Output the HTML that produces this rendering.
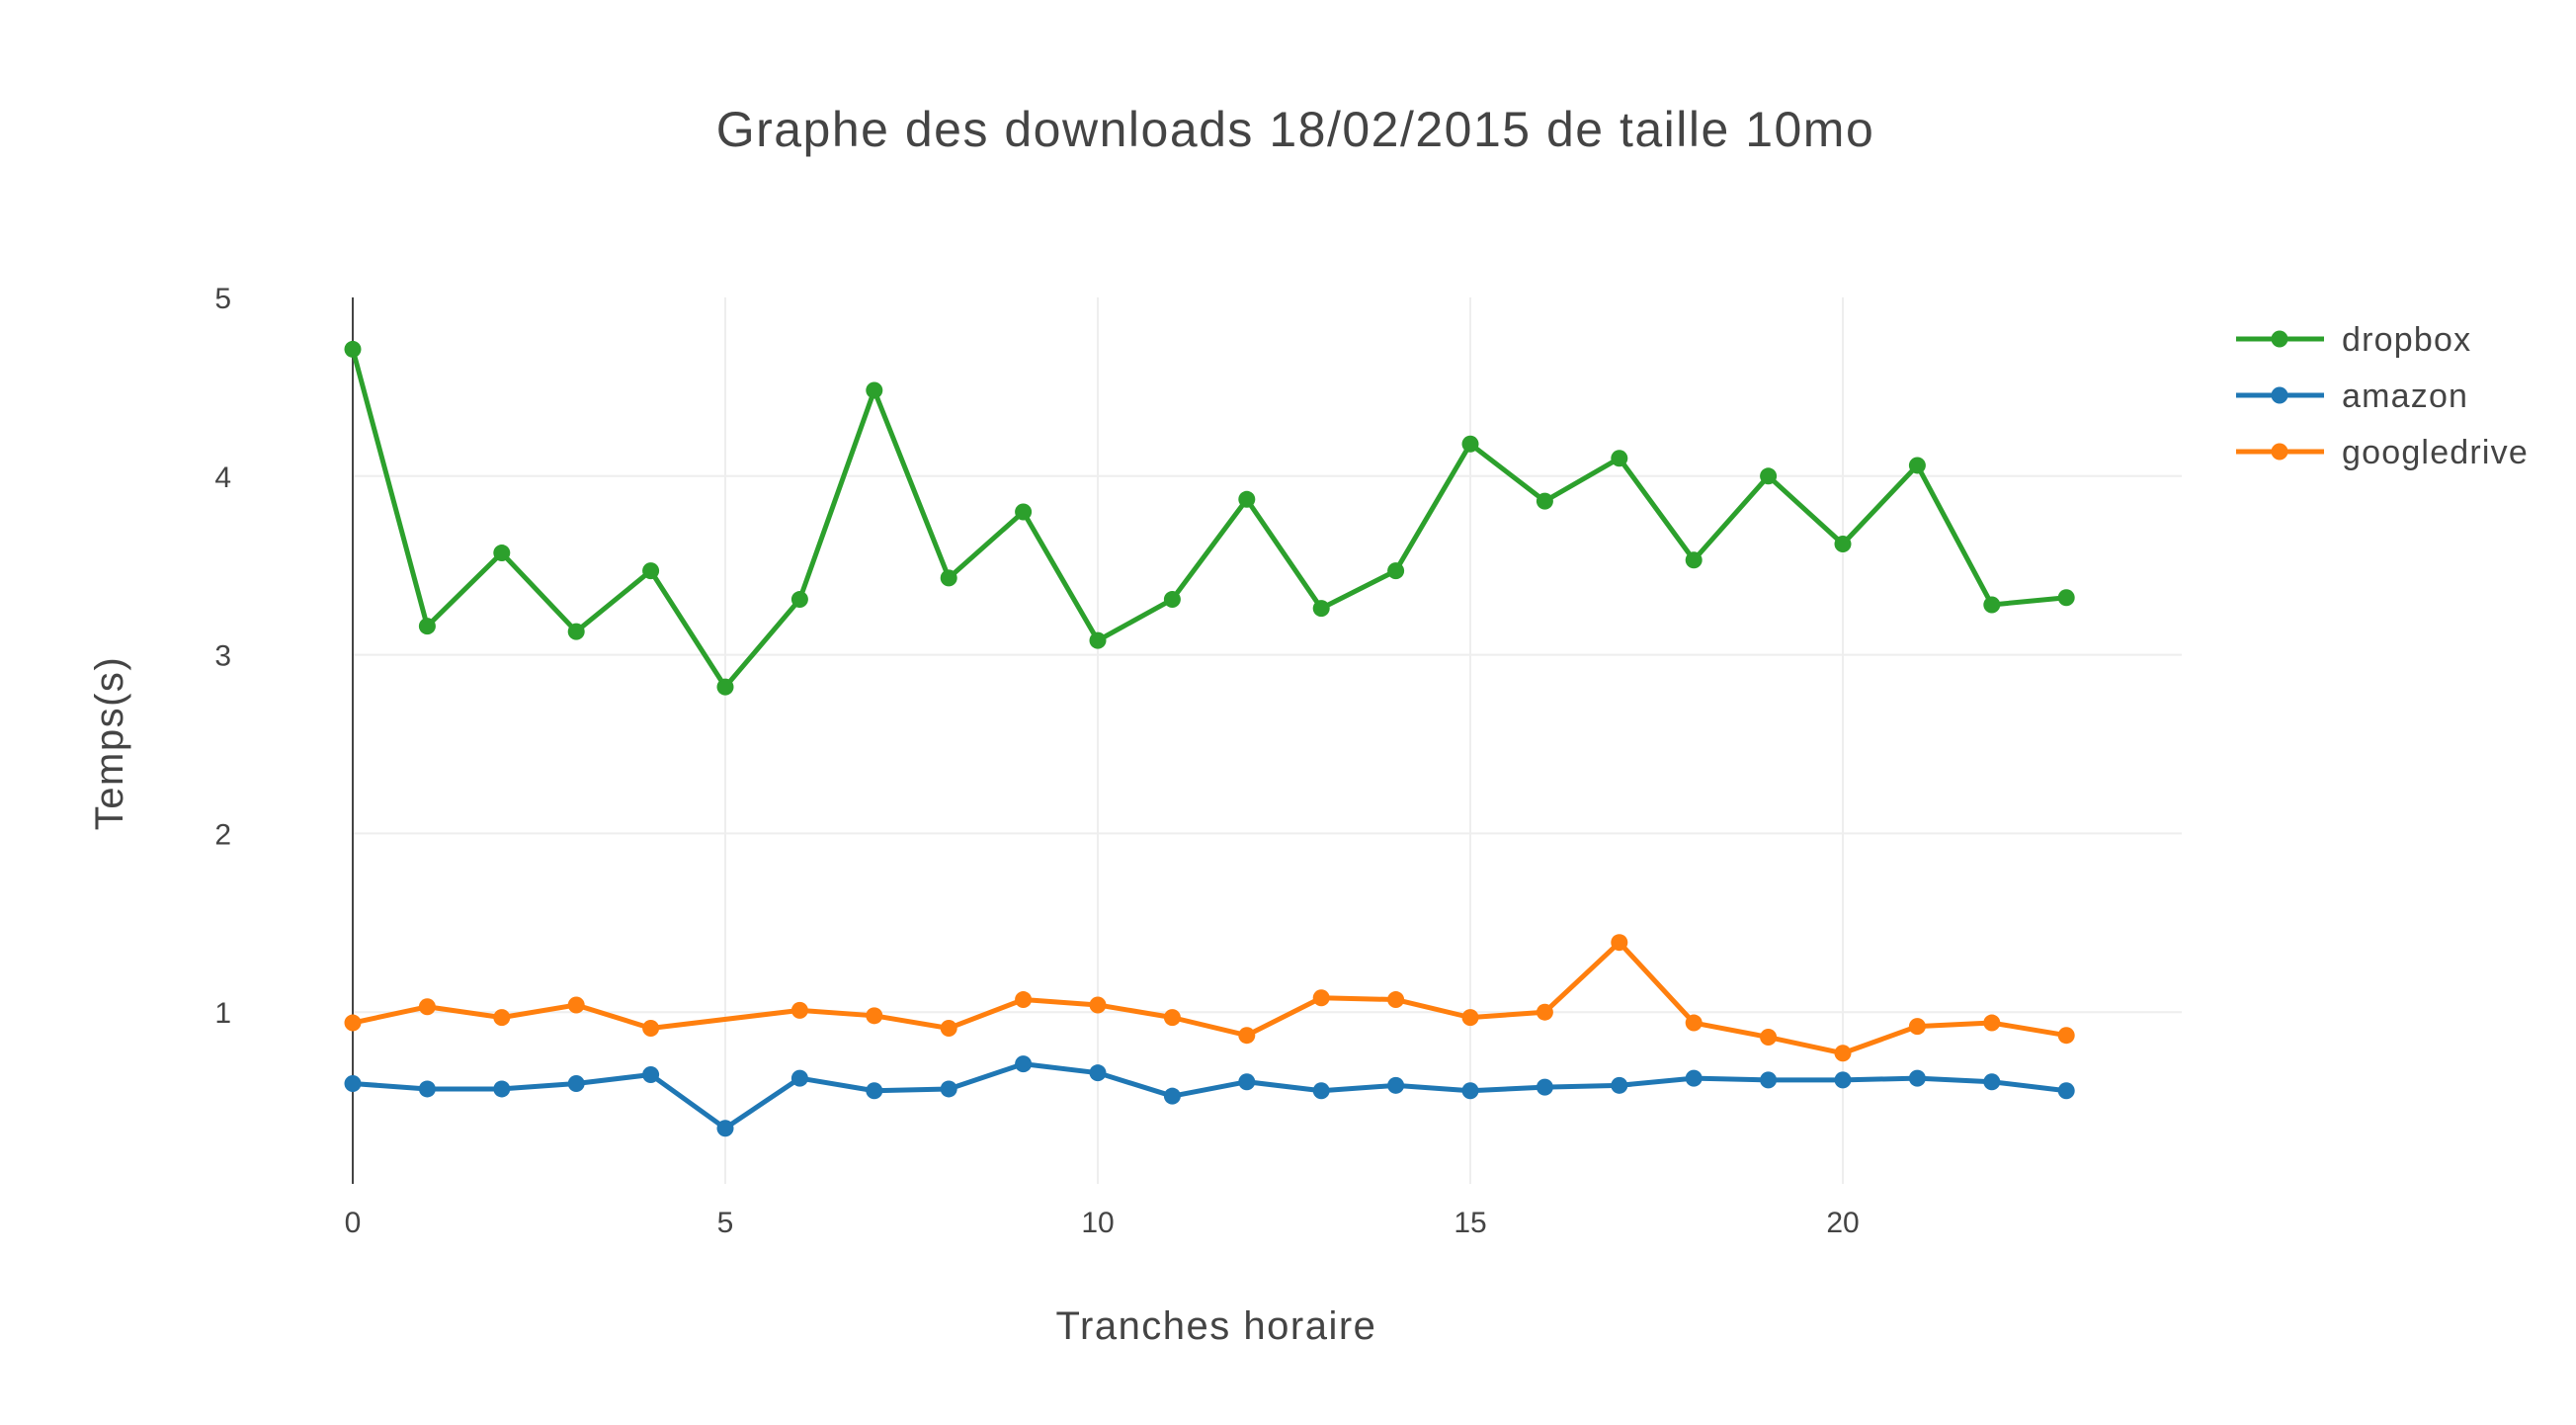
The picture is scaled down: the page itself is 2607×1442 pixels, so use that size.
<!DOCTYPE html>
<html><head><meta charset="utf-8"><style>
body{margin:0;background:#fff;}
svg text{font-family:"Liberation Sans","DejaVu Sans",sans-serif;fill:#444;}
</style></head><body>
<svg id="chart" width="2607" height="1437" xmlns="http://www.w3.org/2000/svg">
<text x="1311" y="148" font-size="50" letter-spacing="1.5" text-anchor="middle">Graphe des downloads 18/02/2015 de taille 10mo</text>
<text x="1231" y="1355" font-size="40" letter-spacing="1.5" text-anchor="middle">Tranches horaire</text>
<text x="124" y="752" font-size="40" letter-spacing="1.5" text-anchor="middle" transform="rotate(-90 124 752)">Temps(s)</text>
<g id="grid"></g><g id="series"></g><g id="legend"></g>
</svg>
<script>
const hours=[0,1,2,3,4,5,6,7,8,9,10,11,12,13,14,15,16,17,18,19,20,21,22,23];
const dropbox=[4.71,3.16,3.57,3.13,3.47,2.82,3.31,4.48,3.43,3.80,3.08,3.31,3.87,3.26,3.47,4.18,3.86,4.10,3.53,4.00,3.62,4.06,3.28,3.32];
const amazon=[0.60,0.57,0.57,0.60,0.65,0.35,0.63,0.56,0.57,0.71,0.66,0.53,0.61,0.56,0.59,0.56,0.58,0.59,0.63,0.62,0.62,0.63,0.61,0.56];
const googledrive=[0.94,1.03,0.97,1.04,0.91,null,1.01,0.98,0.91,1.07,1.04,0.97,0.87,1.08,1.07,0.97,1.00,1.39,0.94,0.86,0.77,0.92,0.94,0.87];
const xTicks=[0,5,10,15,20];
const yTicks=[1,2,3,4,5];
const seriesNames=['dropbox','amazon','googledrive'];
const seriesColors=['#2ca02c','#1f77b4','#ff7f0e'];
const NS='http://www.w3.org/2000/svg';
const L=357,R=2208,T=301,B=1198;
function xs(v){return 357+v*75.4;}
function ys(v){return 1205-v*180.8;}
function mk(tag,attrs,parent){const e=document.createElementNS(NS,tag);for(const k in attrs)e.setAttribute(k,attrs[k]);parent.appendChild(e);return e;}
const grid=document.getElementById('grid');
xTicks.forEach(t=>{
  if(t!==0){const g=mk('line',{x1:xs(t),x2:xs(t),y1:T,y2:B,stroke:'#eee','stroke-width':2},grid);
  
  }
  const tx=mk('text',{x:xs(t),y:1247,'font-size':30,'text-anchor':'middle'},grid);tx.textContent=t;
  
  
});
yTicks.forEach(t=>{
  if(t!==5){const g=mk('line',{x1:L,x2:R,y1:ys(t),y2:ys(t),stroke:'#eee','stroke-width':2},grid);
  
  }
  const tx=mk('text',{x:234,y:ys(t)+11,'font-size':30,'text-anchor':'end'},grid);tx.textContent=t;
  
  
});
const ax=mk('line',{x1:xs(0),x2:xs(0),y1:T,y2:B,stroke:'#444','stroke-width':2},grid);


const sg=document.getElementById('series');
[dropbox,amazon,googledrive].forEach((vals,i)=>{
  const pts=[];hours.forEach((h,j)=>{if(vals[j]!=null)pts.push(xs(h)+','+ys(vals[j]));});
  const pl=mk('polyline',{points:pts.join(' '),fill:'none',stroke:seriesColors[i],'stroke-width':5,'stroke-linejoin':'round'},sg);
  
  
  hours.forEach((h,j)=>{if(vals[j]==null)return;
    const c=mk('circle',{cx:xs(h),cy:ys(vals[j]),r:8.5,fill:seriesColors[i]},sg);
    
    
  });
});
const lg=document.getElementById('legend');
seriesNames.forEach((n,i)=>{
  const y=343+i*57;
  const g=mk('g',{},lg);
  
  
  mk('line',{x1:2263,x2:2352,y1:y,y2:y,stroke:seriesColors[i],'stroke-width':5},g);
  mk('circle',{cx:2307,cy:y,r:8.5,fill:seriesColors[i]},g);
  const t=mk('text',{x:2370,y:y+12,'font-size':34,'letter-spacing':1.2},g);t.textContent=n;
});
</script>
</body></html>
